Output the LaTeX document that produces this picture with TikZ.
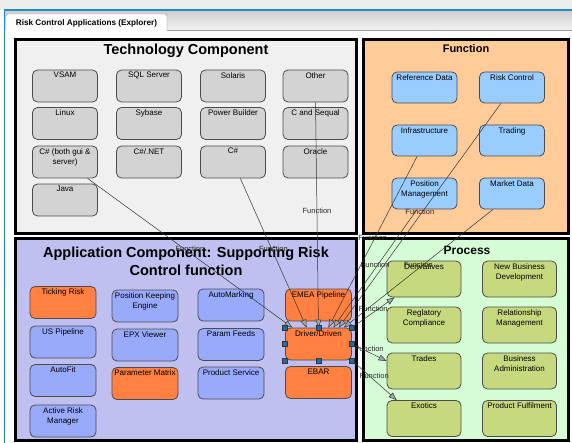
\documentclass[tikz,border=0pt]{standalone}
\usepackage{fontspec}
\setmainfont{Liberation Sans}
\usetikzlibrary{arrows.meta}

\definecolor{techbg}{HTML}{F0F0F0}
\definecolor{funcbg}{HTML}{FFCC99}
\definecolor{appbg}{HTML}{C0C0F0}
\definecolor{procbg}{HTML}{D6FCD6}
\definecolor{techfill}{HTML}{D3D3D3}
\definecolor{funcfill}{HTML}{99CCFF}
\definecolor{appfill}{HTML}{99AAFA}
\definecolor{hotfill}{HTML}{FF8040}
\definecolor{procfill}{HTML}{C6D97F}
\definecolor{handle}{HTML}{1A6FA8}
\definecolor{tabblue}{HTML}{1E8CC8}

\tikzset{
  panel/.style={draw=black, line width=3pt, inner sep=0pt},
  ptitle/.style={font=\bfseries\fontsize{14.5}{18}\selectfont, align=center, inner sep=0pt},
  txt/.style={font=\fontsize{8}{10}\selectfont, align=center, inner sep=1pt, anchor=north, yshift=-1.5pt},
  box/.style={draw=black!70, line width=0.8pt, rounded corners=5pt, inner sep=0pt,
    minimum width=65pt, minimum height=32pt, label={[txt]north:{#1}}},
  techbox/.style={box={#1}, fill=techfill},
  funcbox/.style={box={#1}, fill=funcfill, minimum height=31pt},
  appbox/.style={box={#1}, fill=appfill, minimum width=66pt},
  hotbox/.style={box={#1}, fill=hotfill, minimum width=66pt},
  procbox/.style={box={#1}, fill=procfill, minimum width=74pt, minimum height=36pt},
  conn/.style={draw=black!80, line width=0.5pt, -{Triangle[length=8pt, width=6pt, fill=black!35]}},
  fn/.style={midway, font=\fontsize{7.5}{9}\selectfont, text=black!85, inner sep=0pt, yshift=4pt},
  grip/.style={draw=black!80, fill=handle, line width=0.4pt, minimum size=5pt, inner sep=0pt}
}

\begin{document}
\begin{tikzpicture}[x=1pt, y=-1pt]
\useasboundingbox (0,0) rectangle (572,443);

% window header
\fill[black!7] (0,0) rectangle (572,10);
\shade[top color=black!20, bottom color=black!5] (5,10) rectangle (572,30);
\draw[black!40] (167,30.5) -- (572,30.5);
\draw[black!45, fill=white] (6,31) -- (6,15) [rounded corners=2pt] -- (6,14) -- (167,14) [sharp corners] -- (167,31);
\node[font=\bfseries\fontsize{8.2}{9}\selectfont, inner sep=0pt] (tabtxt) at (86.5,23) {Risk Control Applications (Explorer)};
\draw[tabblue, line width=1.5pt] (4.5,443) -- (4.5,10) -- (572,10);

% panels
\node[panel, fill=techbg, minimum width=341pt, minimum height=194pt] (tech) at (185.5,137) {};
\node[panel, fill=funcbg, minimum width=205pt, minimum height=194pt] (func) at (465.5,137) {};
\node[panel, fill=appbg, minimum width=341pt, minimum height=201pt] (app) at (185.5,339.5) {};
\node[panel, fill=procbg, minimum width=205pt, minimum height=201pt] (proc) at (465.5,339.5) {};

\node[ptitle] (techttl) at (186,51) {Technology Component};
\node[ptitle, font=\bfseries\fontsize{11}{13}\selectfont] (functtl) at (466,48.5) {Function};
\node[ptitle] (appttl) at (186,261) {Application Component: Supporting Risk\\Control function};
\node[ptitle, font=\bfseries\fontsize{12}{14}\selectfont] (procttl) at (467,250) {Process};

% technology
\node[techbox=VSAM] (vsam) at (65,86) {};
\node[techbox=SQL Server] (sqlsrv) at (149,86) {};
\node[techbox=Solaris] (solaris) at (233,86) {};
\node[techbox=Other] (other) at (315.5,86) {};
\node[techbox=Linux] (linux) at (65,123.5) {};
\node[techbox=Sybase] (sybase) at (149,123.5) {};
\node[techbox=Power Builder] (pwrbld) at (233,123.5) {};
\node[techbox=C and Sequal] (cseq) at (315.5,123.5) {};
\node[techbox={C\# (both gui \&\\ server)}] (csgui) at (65,162) {};
\node[techbox={C\#/.NET}] (csnet) at (149,162) {};
\node[techbox={C\#}] (csharp) at (233,162) {};
\node[techbox=Oracle] (oracle) at (315.5,162) {};
\node[techbox=Java] (java) at (65,200) {};

% functions
\node[funcbox=Reference Data] (refdata) at (424.5,87.5) {};
\node[funcbox=Risk Control] (riskctl) at (512,87.5) {};
\node[funcbox=Infrastructure] (infra) at (424.5,140.5) {};
\node[funcbox=Trading] (trading) at (512,140.5) {};
\node[funcbox={Position\\Management}] (posmgmt) at (424.5,193.5) {};
\node[funcbox=Market Data] (mktdata) at (512,193.5) {};

% applications
\node[hotbox=Ticking Risk] (ticking) at (63,302.5) {};
\node[appbox=US Pipeline] (uspipe) at (63,342) {};
\node[appbox=AutoFit] (autofit) at (63,380.5) {};
\node[appbox={Active Risk\\Manager}] (activerisk) at (63,421) {};
\node[appbox={Position Keeping\\Engine}] (poskeep) at (145,306) {};
\node[appbox=EPX Viewer] (epx) at (145,345) {};
\node[hotbox=Parameter Matrix] (parmatrix) at (145,383.5) {};
\node[appbox=AutoMarking] (automark) at (231,305) {};
\node[appbox=Param Feeds] (paramfeeds) at (231,344.5) {};
\node[appbox=Product Service] (prodsvc) at (231,383) {};
\node[hotbox=EMEA Pipeline] (emea) at (318.5,305) {};
\node[hotbox=Driver/Driven] (drv) at (318.5,344) {};
\node[hotbox=EBAR] (ebar) at (318.5,382.5) {};

% processes
\node[procbox=Derivatives] (deriv) at (424,279) {};
\node[procbox={New Business\\Development}] (newbiz) at (519.5,279) {};
\node[procbox={Reglatory\\Compliance}] (regcomp) at (424,325) {};
\node[procbox={Relationship\\Management}] (relmgmt) at (519.5,325) {};
\node[procbox=Trades] (trades) at (424,371) {};
\node[procbox={Business\\Administration}] (bizadmin) at (519.5,371) {};
\node[procbox=Exotics] (exotics) at (424,418.5) {};
\node[procbox=Product Fulfilment] (prodfulf) at (519.5,418.5) {};

% links into Driver/Driven
\draw[conn] (csgui.-36) -- node[fn] (lbl1) {Function} (drv.148);
\draw[conn] (csharp.-66) -- node[fn] (lbl2) {Function} (drv.126);
\draw[conn] (other.south) -- node[fn] (lbl3) {Function} (drv.north);
\draw[conn] (infra.-115) -- node[fn] (lbl4) {Function} (drv.59);
\draw[conn] (posmgmt.-115) -- node[fn] (lbl5) {Function} (drv.48);
\draw[conn] (riskctl.-125) -- node[fn] (lbl6) {Function} (drv.39);
\draw[conn] (mktdata.-140) -- node[fn] (lbl7) {Function} (drv.33);

% links out of Driver/Driven
\draw[conn] (drv.north east) -- node[fn] (lbl8) {Function} (deriv.212);
\draw[conn] (drv.east) -- node[fn] (lbl9) {Function} (trades.165);
\draw[conn] (drv.south east) -- node[fn] (lbl10) {Function} (exotics.146);

% selection grips
\foreach \a [count=\i] in {north west,north,north east,west,east,south west,south,south east}
  \node[grip] (grip\i) at (drv.\a) {};
\end{tikzpicture}
\end{document}
